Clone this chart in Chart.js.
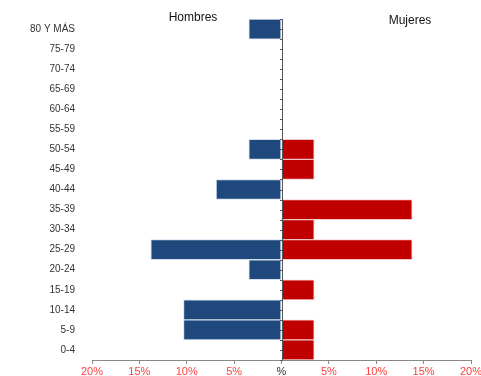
<!DOCTYPE html>
<html>
<head>
<meta charset="utf-8">
<script src="https://cdn.jsdelivr.net/npm/chart.js@4/dist/chart.umd.min.js"></script>
<style>
  html, body { margin: 0; padding: 0; background: #ffffff; }
  #wrap { width: 481px; height: 376px; position: relative; }
</style>
</head>
<body>
<div id="wrap"><canvas id="pyramidChart"></canvas></div>
<script>
// Age groups, top to bottom
const ageGroups = ["80 Y MÁS", "75-79", "70-74", "65-69", "60-64", "55-59", "50-54", "45-49",
  "40-44", "35-39", "30-34", "25-29", "20-24", "15-19", "10-14", "5-9", "0-4"];

// Percent of population per group (men plotted to the left)
const hombres = [3.45, 0, 0, 0, 0, 0, 3.45, 0, 6.9, 0, 0, 13.79, 3.45, 0, 10.34, 10.34, 0];
const mujeres = [0, 0, 0, 0, 0, 0, 3.45, 3.45, 0, 13.79, 3.45, 13.79, 0, 3.45, 0, 3.45, 3.45];

const xTicks = [-20, -15, -10, -5, 0, 5, 10, 15, 20];

const FONT = "'Liberation Sans', Arial, sans-serif";

// Center axis line with small ticks, plus the two side titles
const pyramidDecor = {
  id: "pyramidDecor",
  afterDatasetsDraw(chart) {
    const { ctx, chartArea, scales } = chart;
    const x0 = scales.x.getPixelForValue(0);
    ctx.save();
    ctx.strokeStyle = "#555555";
    ctx.lineWidth = 1;
    ctx.beginPath();
    ctx.moveTo(Math.round(x0) + 0.5, chartArea.top);
    ctx.lineTo(Math.round(x0) + 0.5, chartArea.bottom);
    const step = (chartArea.bottom - chartArea.top) / ageGroups.length / 2;
    for (let y = chartArea.top; y <= chartArea.bottom + 0.1; y += step) {
      ctx.moveTo(Math.round(x0) - 2, Math.round(y) + 0.5);
      ctx.lineTo(Math.round(x0) + 1, Math.round(y) + 0.5);
    }
    ctx.stroke();

    ctx.fillStyle = "#111111";
    ctx.font = "12px " + FONT;
    ctx.textAlign = "center";
    ctx.textBaseline = "middle";
    ctx.fillText("Hombres", 193, 18);
    ctx.fillText("Mujeres", 410, 21);
    ctx.restore();
  },
};

new Chart(document.getElementById("pyramidChart").getContext("2d"), {
  type: "bar",
  data: {
    labels: ageGroups,
    datasets: [
      {
        label: "Hombres",
        data: hombres.map((v) => -v),
        backgroundColor: "#1f497d",
        borderColor: "rgba(200, 215, 235, 0.8)",
        borderWidth: 1,
        borderSkipped: false,
        barPercentage: 1,
        categoryPercentage: 1,
      },
      {
        label: "Mujeres",
        data: mujeres,
        backgroundColor: "#c00000",
        borderColor: "rgba(240, 190, 190, 0.8)",
        borderWidth: 1,
        borderSkipped: false,
        barPercentage: 1,
        categoryPercentage: 1,
      },
    ],
  },
  options: {
    indexAxis: "y",
    responsive: true,
    maintainAspectRatio: false,
    animation: false,
    layout: { padding: { top: 19, right: 10, left: 0, bottom: 0 } },
    plugins: {
      legend: { display: false },
      tooltip: { enabled: false },
    },
    scales: {
      x: {
        stacked: true,
        min: -20,
        max: 20,
        afterBuildTicks: (scale) => {
          scale.ticks = xTicks.map((v) => ({ value: v }));
        },
        afterFit: (scale) => {
          scale.height = 16;
          scale.paddingLeft = 0;
          scale.paddingRight = 0;
        },
        grid: { drawOnChartArea: false, color: "#888888", tickLength: 4 },
        border: { color: "#888888" },
        ticks: {
          padding: 1,
          maxRotation: 0,
          autoSkip: false,
          font: { size: 11, family: FONT },
          color: (c) => (c.tick && c.tick.value === 0 ? "#333333" : "#ff4040"),
          callback: (v) => (v === 0 ? "%" : Math.abs(v) + "%"),
        },
      },
      y: {
        stacked: true,
        afterFit: (scale) => {
          scale.width = 92;
        },
        grid: { display: false },
        border: { display: false },
        ticks: {
          padding: 9,
          autoSkip: false,
          font: { size: 10, family: FONT },
          color: "#333333",
        },
      },
    },
  },
  plugins: [pyramidDecor],
});
</script>
</body>
</html>
